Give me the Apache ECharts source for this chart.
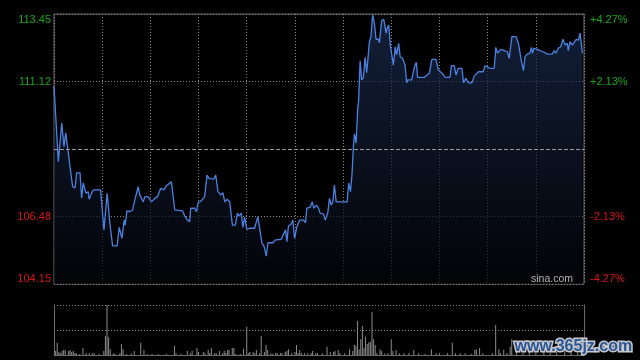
<!DOCTYPE html>
<html>
<head>
<meta charset="utf-8">
<style>
  html, body { margin: 0; padding: 0; background: #000; }
  #chart { width: 640px; height: 360px; }
</style>
<script src="https://cdn.jsdelivr.net/npm/echarts@6/dist/echarts.min.js"></script>
</head>
<body>
<div id="chart"></div>
<script>
// ---- data (minutes since open, HK session 330 min) ----
var prevClose = 108.80;
var yMin = 104.15, yMax = 113.45, yStep = 2.325;
var leftLabels = ["104.15", "106.48", "", "111.12", "113.45"];
var rightLabels = ["-4.27%", "-2.13%", "", "+2.13%", "+4.27%"];

var minutes = [
  0,2.7,4.8,6.2,7.3,8.9,11.6,13.1,14.1,16.2,
  17.2,18.2,19.9,21.3,21.9,23.4,24.4,29.0,31.1,33.1,
  34.8,36.5,39.3,40.6,42.3,43.7,44.3,45.4,47.2,48.9,
  50.3,52.4,53.4,54.5,55.5,56.6,58.6,60.7,62.8,64.4,
  66.5,68.4,70.0,73.1,75.2,76.3,80.0,81.4,83.1,84.5,
  85.1,87.6,88.7,89.7,91.8,93.8,95.3,96.5,99.4,100.7,
  102.1,103.8,105.2,106.3,107.7,109.4,111.1,112.9,114.2,115.2,
  116.6,117.6,118.7,120.1,121.8,124.9,126.9,128.0,129.5,130.7,
  132.2,133.2,136.3,138.0,141.5,142.9,144.2,145.0,146.0,147.7,
  148.7,149.8,151.2,152.9,155.4,156.6,157.4,159.5,160.8,161.8,
  163.3,164.7,165.7,167.8,168.9,170.5,171.5,172.6,173.6,174.6,
  175.7,177.7,182.5,183.5,184.6,185.6,186.4,187.1,188.1,189.1,
  189.7,190.6,191.6,192.7,193.7,194.7,196.4,197.4,198.4,199.5,
  200.5,202.0,202.6,204.0,205.3,206.8,207.4,208.4,209.4,210.2,
  211.3,212.5,213.3,214.6,215.5,217.1,218.6,219.6,220.2,222.7,
  224.4,225.6,226.4,230.6,233.7,235.3,237.8,239.3,241.6,243.6,
  246.5,247.5,249.2,250.3,251.7,254.0,255.0,256.5,257.9,260.2,
  261.6,264.3,267.2,268.3,269.9,271.4,274.1,275.1,276.1,278.2,
  280.3,282.3,283.4,285.1,287.6,289.2,290.7,292.3,293.3,294.8,
  296.3,297.3,297.9,298.9,301.0,302.5,304.5,307.2,310.3,311.4,
  312.4,314.0,315.5,316.9,318.2,319.6,320.2,321.3,322.7,323.8,
  325.2,326.5,327.5,328.3,329.0
];
var prices = [
  110.97,108.36,109.69,108.88,109.36,108.66,107.50,107.46,107.98,107.98,
  107.11,107.63,107.28,107.33,107.07,107.28,107.39,107.39,106.01,107.27,
  106.24,105.46,105.46,106.10,105.72,106.35,106.18,106.67,106.64,106.70,
  107.04,107.50,107.22,107.27,106.98,107.16,107.16,106.98,107.10,107.16,
  107.45,107.39,107.53,107.67,106.70,106.76,106.67,106.49,106.35,106.30,
  106.76,106.76,106.64,106.95,107.02,107.16,107.90,107.79,107.76,107.90,
  107.33,107.22,107.29,106.98,107.07,106.98,106.18,106.18,106.59,106.49,
  106.59,106.10,106.45,106.03,106.07,106.07,106.47,106.45,105.55,105.46,
  105.11,105.57,105.57,105.67,105.69,105.87,106.01,105.61,106.15,106.22,
  106.35,105.72,106.12,106.35,106.35,106.26,106.76,106.79,106.98,106.76,
  106.87,106.76,106.59,106.56,106.35,106.61,107.10,106.87,106.98,107.56,
  106.98,106.98,106.98,107.62,107.33,107.96,108.88,109.32,109.00,110.20,
  110.49,111.84,111.18,111.27,111.96,111.43,112.50,112.69,113.42,113.13,
  112.58,112.58,112.46,113.22,113.27,112.79,112.96,113.07,112.38,112.38,
  111.69,112.32,112.04,112.44,111.98,111.92,111.69,111.08,111.18,111.18,
  111.63,111.79,111.27,111.27,111.41,111.89,111.89,111.52,111.41,111.27,
  111.27,111.67,111.67,111.35,111.58,111.58,111.08,111.24,111.08,111.08,
  111.31,111.46,111.46,111.66,111.63,111.58,111.58,112.30,112.10,112.23,
  112.19,112.15,111.92,112.67,112.67,112.44,111.92,111.50,111.98,112.07,
  112.10,112.30,112.10,112.27,112.23,112.19,112.15,112.07,112.07,112.19,
  112.10,112.27,112.32,112.58,112.38,112.44,112.19,112.50,112.38,112.38,
  112.58,112.55,112.79,112.73,112.10
];

var volMinutes = [
  1,2,3,4,5,6,7,9,10,11,12,13,14,16,18,20,22,24,25,28,
  31,32,33,34,35,37,38,41,42,43,45,48,50,54,56,58,61,65,70,75,
  76,79,83,85,86,89,90,93,94,96,97,98,100,101,103,105,106,107,108,109,
  111,112,113,116,118,120,121,122,124,125,126,128,129,131,132,133,135,136,138,139,
  141,142,144,145,146,148,150,151,152,153,154,156,158,160,161,163,164,167,170,172,
  174,175,177,178,181,184,186,187,188,189,190,191,192,193,194,195,196,197,198,199,
  200,201,203,204,206,208,210,211,213,215,218,221,224,227,231,235,238,240,245,248,
  250,253,256,260,262,263,265,267,273,275,277,278,280,282,284,285,288,292,296,300,
  305,309,313,318,322,326,329
];
var volValues = [
  40,123,30,20,40,50,50,40,50,30,40,20,17,10,70,20,17,17,17,10,
  40,190,500,177,57,17,10,17,110,57,10,17,40,123,50,10,10,10,10,90,
  17,10,40,17,43,70,30,30,17,50,20,70,17,20,40,17,43,20,50,50,
  70,70,10,10,63,283,20,30,30,17,50,17,190,30,100,50,17,10,20,20,
  20,17,30,40,57,20,30,100,20,50,20,17,17,20,40,17,20,17,83,30,
  30,40,50,20,17,57,40,100,93,340,57,157,290,73,183,110,127,133,430,157,
  100,17,57,40,17,17,157,40,50,17,17,20,50,17,10,57,17,17,17,123,
  17,17,17,10,50,57,70,17,17,300,57,17,50,20,83,157,30,20,40,20,
  30,20,30,40,30,20,50
];
var volMax = 500;

// ---- chart ----
var chart = echarts.init(document.getElementById('chart'), null, { renderer: 'canvas' });
var FONT = 'Liberation Sans, Arial, sans-serif';
var dotted = { color: '#8a8a8a', width: 1, type: [1, 2] };
var GREEN = '#14a814', RED = '#d81414';
function idxOf(v) { return Math.round((v - yMin) / yStep); }

var lineData = minutes.map(function (t, i) { return [t, prices[i]]; });
var volData = volMinutes.map(function (t, i) { return [t, volValues[i]]; });

var option = {
  backgroundColor: '#000',
  animation: false,
  grid: [
    { left: 54, top: 14, width: 530, height: 270, show: true, borderColor: '#6a6a6a', borderWidth: 1, backgroundColor: 'transparent' },
    { left: 54, top: 305, width: 530, height: 50 }
  ],
  xAxis: [
    { type: 'value', gridIndex: 0, min: 0, max: 330, interval: 30,
      axisLine: { show: false }, axisTick: { show: false }, axisLabel: { show: false },
      splitLine: { show: true, lineStyle: dotted } },
    { type: 'value', gridIndex: 1, min: 0, max: 330, interval: 30,
      axisLine: { show: true, onZero: false, lineStyle: { color: '#6a6a6a' } },
      axisTick: { show: false }, axisLabel: { show: false }, splitLine: { show: false } }
  ],
  yAxis: [
    { type: 'value', gridIndex: 0, min: yMin, max: yMax, interval: yStep, position: 'left',
      axisLine: { show: false }, axisTick: { show: false },
      splitLine: { show: true, lineStyle: dotted },
      axisLabel: {
        margin: 3, fontSize: 11, fontFamily: FONT,
        verticalAlignMinLabel: 'bottom', verticalAlignMaxLabel: 'top',
        formatter: function (v) { return leftLabels[idxOf(v)] || ''; },
        color: function (v) { return idxOf(v) > 2 ? GREEN : RED; }
      } },
    { type: 'value', gridIndex: 0, min: yMin, max: yMax, interval: yStep, position: 'right',
      axisLine: { show: false }, axisTick: { show: false }, splitLine: { show: false },
      axisLabel: {
        margin: 6, fontSize: 11, fontFamily: FONT,
        verticalAlignMinLabel: 'bottom', verticalAlignMaxLabel: 'top',
        formatter: function (v) { return rightLabels[idxOf(v)] || ''; },
        color: function (v) { return idxOf(v) > 2 ? GREEN : RED; }
      } },
    { type: 'value', gridIndex: 1, min: 0, max: volMax, interval: volMax / 2, position: 'left',
      axisLine: { show: true, lineStyle: { color: '#6a6a6a' } }, axisTick: { show: false },
      axisLabel: { show: false }, splitLine: { show: true, lineStyle: dotted } },
    { type: 'value', gridIndex: 1, min: 0, max: volMax, position: 'right',
      axisLine: { show: true, lineStyle: { color: '#6a6a6a' } }, axisTick: { show: false },
      axisLabel: { show: false }, splitLine: { show: false } }
  ],
  series: [
    {
      type: 'line', xAxisIndex: 0, yAxisIndex: 0, data: lineData,
      showSymbol: false, symbol: 'none',
      lineStyle: { color: '#4a82e2', width: 1.3 },
      areaStyle: {
        color: new echarts.graphic.LinearGradient(0, 0, 0, 1, [
          { offset: 0, color: '#1b2c50' },
          { offset: 1, color: '#03050a' }
        ])
      },
      markLine: {
        silent: true, symbol: 'none', label: { show: false },
        lineStyle: { color: '#9a9a9a', type: [4, 2], width: 1 },
        data: [{ yAxis: prevClose }]
      },
      z: 3
    },
    {
      type: 'bar', xAxisIndex: 1, yAxisIndex: 2, data: volData,
      barWidth: 1, itemStyle: { color: '#8c8c8c' }
    }
  ],
  graphic: [
    { type: 'text', right: 67, top: 274, z: 10,
      style: { text: 'sina.com', font: '10.5px ' + FONT, fill: '#b4b4b4' } },
    { type: 'text', left: 513, top: 337, z: 100,
      style: { text: 'www.365jz.com', font: 'bold 16px ' + FONT, fill: '#2a5599',
               stroke: '#c8c8c8', lineWidth: 3 } }
  ]
};
chart.setOption(option);
</script>
</body>
</html>
